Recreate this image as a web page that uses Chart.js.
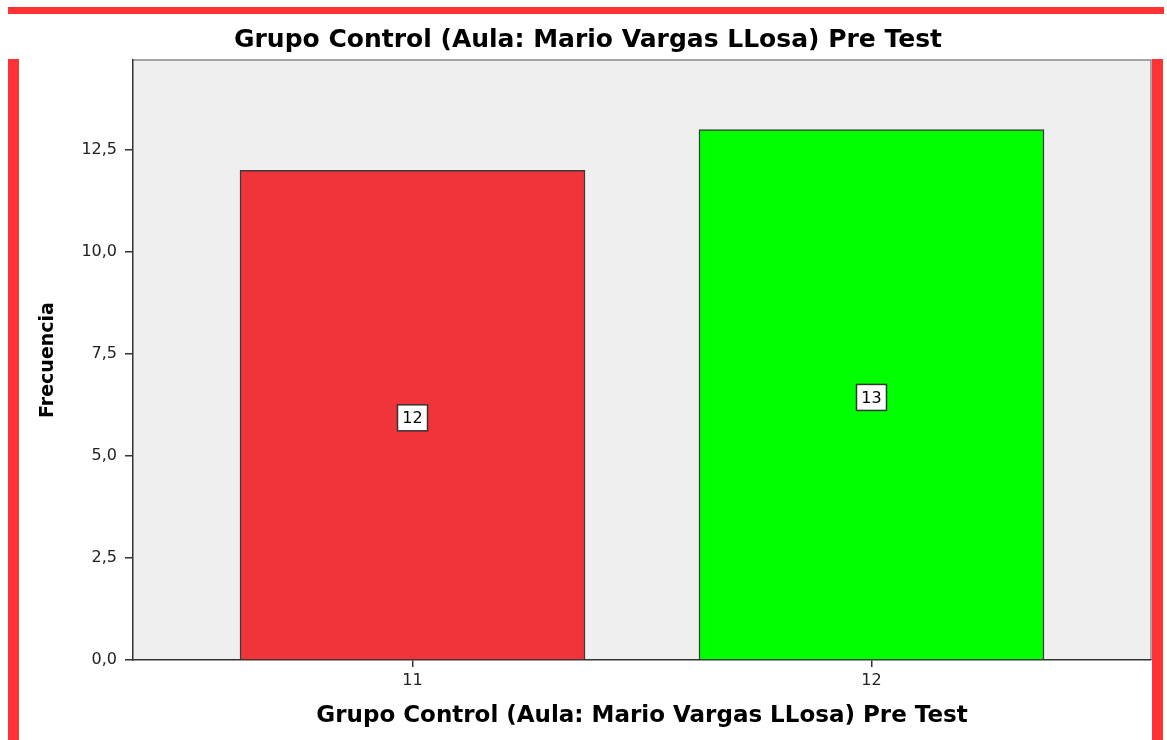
<!DOCTYPE html>
<html>
<head>
<meta charset="utf-8">
<title>Grupo Control Pre Test</title>
<script src="https://cdn.jsdelivr.net/npm/chart.js@4/dist/chart.umd.min.js"></script>
<style>
  body { margin: 0; background: #fff; }
  #graph1 { display: block; }
</style>
</head>
<body>
<canvas id="graph1" width="1167" height="740"></canvas>
<script>

// data //
const notas = [11, 12]
const frecuencias = [12, 13]
const colores = ['#f0343a', '#00ff00']
const yTicks = [0, 2.5, 5, 7.5, 10, 12.5]

const tituloTexto = 'Grupo Control (Aula: Mario Vargas LLosa) Pre Test'

// red frame + gray plot background //
const fondo = {
    id: 'fondo',
    beforeDraw(chart) {
        const ctx = chart.ctx
        const a = chart.chartArea
        ctx.save()
        ctx.fillStyle = '#ff3333'
        ctx.fillRect(8, 7, 1156, 7)
        ctx.fillRect(8, 59, 11, 681)
        ctx.fillRect(1152, 59, 11, 681)
        ctx.fillStyle = '#efefef'
        ctx.fillRect(a.left, a.top, a.right - a.left, a.bottom - a.top)
        ctx.strokeStyle = '#8a8a8a'
        ctx.lineWidth = 1.5
        ctx.beginPath()
        ctx.moveTo(a.left, a.top)
        ctx.lineTo(a.right, a.top)
        ctx.lineTo(a.right, a.bottom)
        ctx.stroke()
        ctx.restore()
    }
}

// value boxes in the middle of each bar //
const etiquetas = {
    id: 'etiquetas',
    afterDatasetsDraw(chart) {
        const ctx = chart.ctx
        const meta = chart.getDatasetMeta(0)
        ctx.save()
        ctx.font = '16px "DejaVu Sans"'
        ctx.textAlign = 'center'
        ctx.textBaseline = 'middle'
        meta.data.forEach(function (bar, i) {
            const cx = bar.x
            const cy = (bar.y + bar.base) / 2 + 3
            ctx.fillStyle = '#fff'
            ctx.fillRect(cx - 15, cy - 13, 30, 26)
            ctx.strokeStyle = '#333'
            ctx.lineWidth = 1.5
            ctx.strokeRect(cx - 15, cy - 13, 30, 26)
            ctx.fillStyle = '#000'
            ctx.fillText(String(frecuencias[i]), cx, cy + 1)
        })
        ctx.restore()
    }
}

const grafico = document.getElementById('graph1')

new Chart(grafico, {
    type: 'bar',
    data: {
        datasets: [{
            label: 'Frecuencia',
            data: notas.map((n, i) => ({ x: n, y: frecuencias[i] })),
            backgroundColor: colores,
            borderColor: '#3a3a3a',
            borderWidth: 1.5,
            barThickness: 345
        }]
    },
    options: {
        responsive: false,
        animation: false,
        layout: {
            padding: { left: 25, right: 16, top: 0, bottom: 0 }
        },
        plugins: {
            legend: { display: false },
            tooltip: { enabled: false },
            title: {
                display: true,
                text: tituloTexto,
                color: '#000',
                font: { family: 'DejaVu Sans', size: 25, weight: 'bold', lineHeight: 1.2 },
                padding: { top: 25, bottom: 5 }
            }
        },
        scales: {
            x: {
                type: 'linear',
                offset: false,
                min: 10.391,
                max: 12.609,
                afterFit: s => { s.height = 80 },
                afterBuildTicks: s => { s.ticks = notas.map(v => ({ value: v })) },
                ticks: {
                    color: '#222',
                    font: { family: 'DejaVu Sans', size: 16 },
                    padding: 4,
                    callback: v => String(v)
                },
                grid: {
                    drawOnChartArea: false,
                    drawTicks: true,
                    tickLength: 7,
                    color: '#333',
                    lineWidth: 1.5,
                    offset: false
                },
                border: { display: true, color: '#333', width: 1.5 },
                title: {
                    display: true,
                    text: tituloTexto,
                    color: '#000',
                    font: { family: 'DejaVu Sans', size: 23, weight: 'bold', lineHeight: 1.2 },
                    padding: { top: 0, bottom: 10 }
                }
            },
            y: {
                min: 0,
                max: 14.706,
                afterFit: s => { s.width = 108 },
                afterBuildTicks: s => { s.ticks = yTicks.map(v => ({ value: v })) },
                ticks: {
                    color: '#222',
                    font: { family: 'DejaVu Sans', size: 16 },
                    padding: 8,
                    callback: v => v.toFixed(1).replace('.', ',')
                },
                grid: {
                    drawOnChartArea: false,
                    drawTicks: true,
                    tickLength: 8,
                    color: '#333',
                    lineWidth: 1.5
                },
                border: { display: true, color: '#333', width: 1.5 },
                title: {
                    display: true,
                    text: 'Frecuencia',
                    color: '#000',
                    font: { family: 'DejaVu Sans', size: 19, weight: 'bold', lineHeight: 1.2 },
                    padding: { top: 12, bottom: 0 }
                }
            }
        }
    },
    plugins: [fondo, etiquetas]
})
</script>
</body>
</html>
